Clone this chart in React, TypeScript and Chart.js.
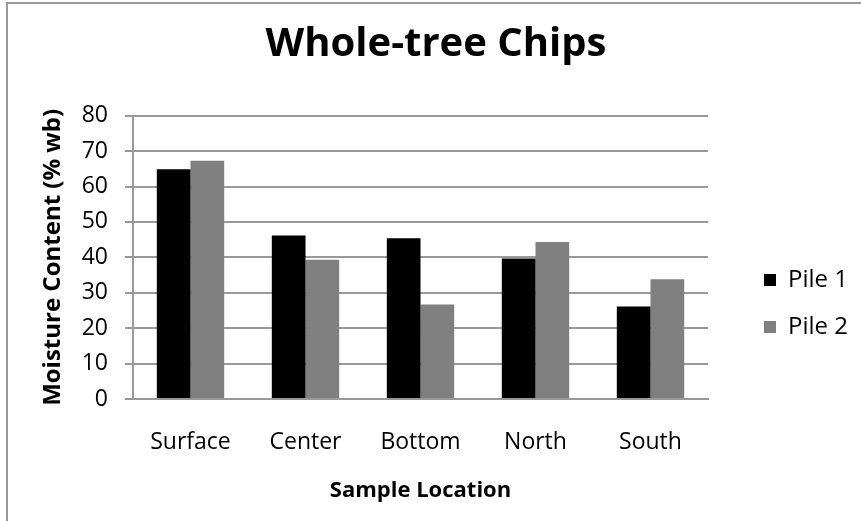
import React, { useEffect, useRef } from "react";
import { Chart, registerables } from "chart.js";

Chart.register(...registerables);

const categories = ["Surface", "Center", "Bottom", "North", "South"];
const pile1 = [64.9, 46.2, 45.4, 39.7, 26.1];
const pile2 = [67.3, 39.3, 26.7, 44.3, 33.8];
const seriesNames = ["Pile 1", "Pile 2"];
const yMin = 0;
const yMax = 80;
const yStep = 10;

const FONT = "'Open Sans', 'DejaVu Sans', sans-serif";
const GRID = "#999999";

export default function App() {
  const ref = useRef<HTMLCanvasElement | null>(null);

  useEffect(() => {
    if (!ref.current) return;
    const chart = new Chart(ref.current, {
      type: "bar",
      data: {
        labels: categories,
        datasets: [
          {
            label: seriesNames[0],
            data: pile1,
            backgroundColor: "#000000",
            borderWidth: 0,
            categoryPercentage: 0.586,
            barPercentage: 1,
          },
          {
            label: seriesNames[1],
            data: pile2,
            backgroundColor: "#808080",
            borderWidth: 0,
            categoryPercentage: 0.586,
            barPercentage: 1,
          },
        ],
      },
      options: {
        responsive: false,
        animation: false,
        devicePixelRatio: 1,
        layout: { padding: { left: 14, right: 3, top: 0, bottom: 0 } },
        font: { family: FONT },
        plugins: {
          tooltip: { enabled: false },
          title: {
            display: true,
            text: "Whole-tree Chips",
            color: "#000",
            font: { family: FONT, size: 40, weight: "bold" },
            padding: { top: 20.5, bottom: 47.2 },
          },
          legend: {
            position: "right",
            align: "center",
            maxWidth: 119,
            title: {
              display: true,
              text: "",
              font: { family: FONT, size: 10 },
              padding: { top: 74, bottom: 0 },
            },
            labels: {
              color: "#000",
              font: { family: FONT, size: 24 },
              boxWidth: 12,
              boxHeight: 12,
              padding: 23,
            },
          },
        },
        scales: {
          x: {
            grid: { display: false, drawTicks: false, tickLength: 0 },
            border: { display: true, color: GRID, width: 2 },
            ticks: {
              color: "#000",
              font: { family: FONT, size: 23 },
              padding: 29.3,
              maxRotation: 0,
              autoSkip: false,
            },
            title: {
              display: true,
              text: "Sample Location",
              color: "#000",
              font: { family: FONT, size: 22, weight: "bold" },
              padding: { top: 22, bottom: 17.3 },
            },
            afterFit: (s: any) => {
              s.height = 122;
            },
          },
          y: {
            min: yMin,
            max: yMax,
            grid: {
              color: GRID,
              lineWidth: 2,
              drawTicks: true,
              tickLength: 8,
              tickColor: GRID,
            },
            border: { display: true, color: GRID, width: 2 },
            ticks: {
              stepSize: yStep,
              color: "#000",
              font: { family: FONT, size: 23 },
              padding: 17,
            },
            title: {
              display: true,
              text: "Moisture Content (% wb)",
              color: "#000",
              font: { family: FONT, size: 24, weight: "bold" },
              padding: { top: 25.1, bottom: 0 },
            },
            afterFit: (s: any) => {
              s.width = 119;
            },
          },
          spacer: {
            type: "linear",
            position: "right",
            display: true,
            grid: { display: false, drawTicks: false },
            border: { display: false },
            ticks: { display: false },
            afterFit: (s: any) => {
              const lw = s.chart && s.chart.legend ? s.chart.legend.width : 119;
              s.width = Math.max(0, 861 - 3 - 708 - lw);
            },
          },
        },
      } as any,
    });
    return () => chart.destroy();
  }, []);

  return (
    <div
      style={{
        position: "absolute",
        left: 0,
        top: 0,
        width: 861,
        height: 521,
        overflow: "hidden",
        background: "#ffffff",
      }}
    >
      <div
        style={{
          position: "absolute",
          left: 6,
          top: 2,
          width: 1000,
          height: 1000,
          border: "2px solid #999999",
          boxSizing: "border-box",
        }}
      />
      <canvas
        ref={ref}
        width={861}
        height={521}
        style={{ position: "absolute", left: 0, top: 0, width: 861, height: 521 }}
      />
    </div>
  );
}
